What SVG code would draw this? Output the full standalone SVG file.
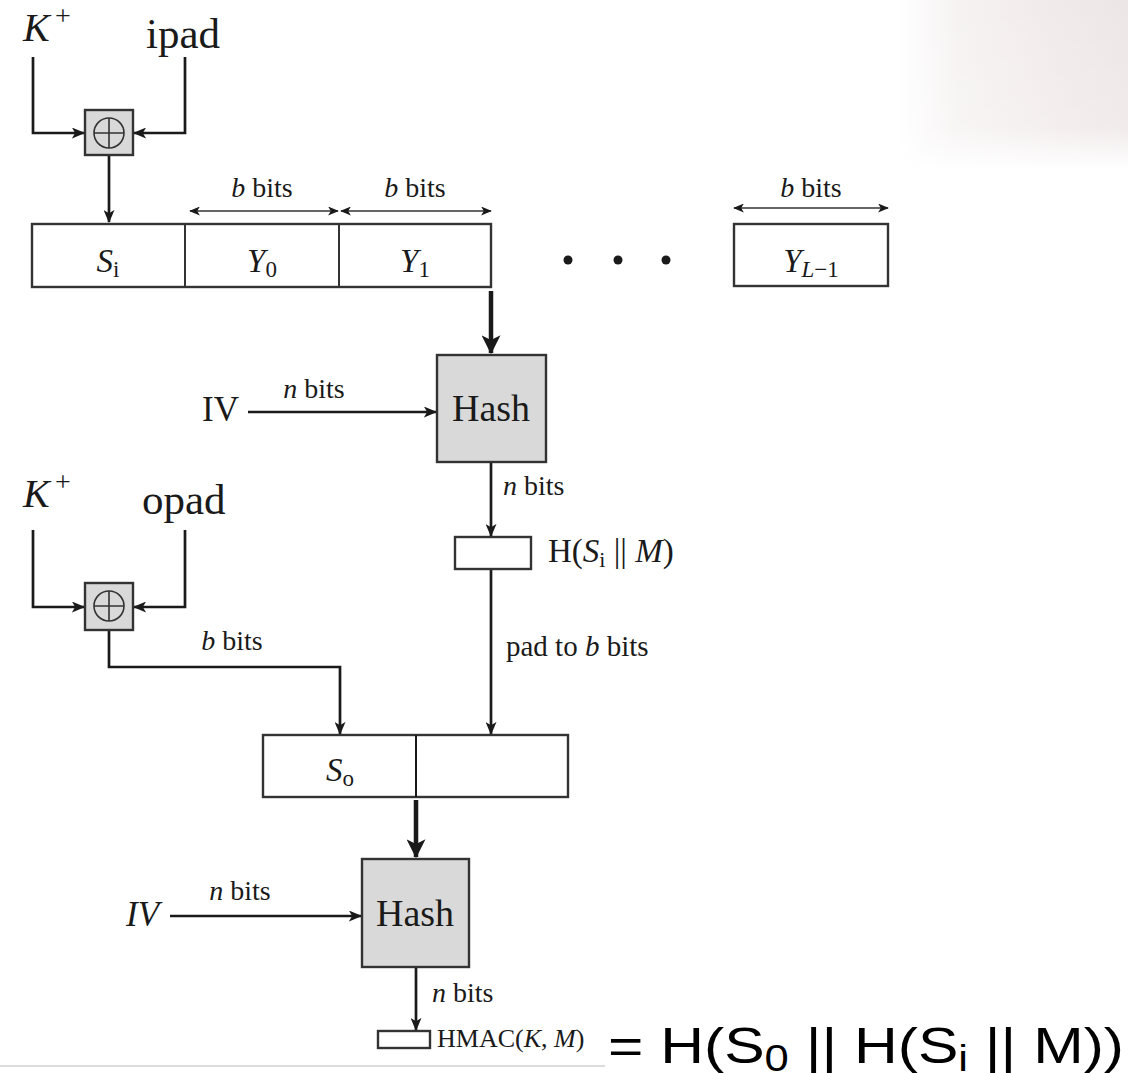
<svg xmlns="http://www.w3.org/2000/svg" width="1128" height="1073" viewBox="0 0 1128 1073">
<defs>
<marker id="ah" viewBox="0 0 12 10" refX="11" refY="5" markerWidth="14" markerHeight="11" markerUnits="userSpaceOnUse" orient="auto"><path d="M0,0 L12,5 L0,10 L3,5 Z" fill="#1a1a1a"/></marker>
<marker id="ahs" viewBox="0 0 12 10" refX="11" refY="5" markerWidth="11" markerHeight="9" markerUnits="userSpaceOnUse" orient="auto-start-reverse"><path d="M0,0 L12,5 L0,10 L3,5 Z" fill="#1a1a1a"/></marker>
<marker id="ahb" viewBox="0 0 16 16" refX="15" refY="8" markerWidth="19" markerHeight="19" markerUnits="userSpaceOnUse" orient="auto"><path d="M0,0 L16,8 L0,16 L4,8 Z" fill="#1a1a1a"/></marker>
<linearGradient id="bgx" x1="0" y1="0" x2="1" y2="0"><stop offset="0" stop-color="#f4efef" stop-opacity="0"/><stop offset="0.25" stop-color="#f4efef" stop-opacity="0.8"/><stop offset="0.7" stop-color="#efe7e8" stop-opacity="0.9"/><stop offset="1" stop-color="#ebe3e4" stop-opacity="0.9"/></linearGradient>
<linearGradient id="bgy" x1="0" y1="0" x2="0" y2="1"><stop offset="0" stop-color="#fff" stop-opacity="0"/><stop offset="0.75" stop-color="#fff" stop-opacity="0.2"/><stop offset="1" stop-color="#fff" stop-opacity="1"/></linearGradient>
</defs>
<style>
.t{font-family:"Liberation Serif","Times New Roman",serif;fill:#1a1a1a}
.i{font-style:italic}
.lbl{font-size:28px}
.box{fill:#fff;stroke:#333;stroke-width:2.4}
.hash{fill:#d9d9d9;stroke:#333;stroke-width:2.4}
.ln{fill:none;stroke:#1a1a1a;stroke-width:2.7}
.thk{fill:none;stroke:#1a1a1a;stroke-width:4.5}
.dbl{fill:none;stroke:#333;stroke-width:1.7}
.a{font-family:"Liberation Sans",Arial,sans-serif;fill:#000}
</style>
<g id="background">
<rect x="900" y="0" width="228" height="170" fill="url(#bgx)"/>
<rect x="900" y="0" width="228" height="170" fill="url(#bgy)"/>
</g>

<g id="connectors">
<path class="ln" d="M33,57 V133 H84" marker-end="url(#ah)"/>
<path class="ln" d="M185,57 V133 H134" marker-end="url(#ah)"/>
<path class="ln" d="M109,155 V222" marker-end="url(#ah)"/>
<path class="dbl" d="M190,211 H338" marker-start="url(#ahs)" marker-end="url(#ahs)"/>
<path class="dbl" d="M341,211 H491" marker-start="url(#ahs)" marker-end="url(#ahs)"/>
<path class="dbl" d="M734,208 H888" marker-start="url(#ahs)" marker-end="url(#ahs)"/>
<path class="thk" d="M491,291 V353" marker-end="url(#ahb)"/>
<path class="ln" d="M248,412 H436" marker-end="url(#ah)"/>
<path class="ln" d="M491,462 V536" marker-end="url(#ah)"/>
<path class="ln" d="M491,569 V734" marker-end="url(#ah)"/>
<path class="ln" d="M33,530 V607 H84" marker-end="url(#ah)"/>
<path class="ln" d="M185,530 V607 H134" marker-end="url(#ah)"/>
<path class="ln" d="M109,630 V667 H340 V734" marker-end="url(#ah)"/>
<path class="thk" d="M416,800 V857" marker-end="url(#ahb)"/>
<path class="ln" d="M170,916 H361" marker-end="url(#ah)"/>
<path class="ln" d="M416,967 V1030" marker-end="url(#ah)"/>
</g>

<g id="kplus1"><text class="t i" x="23" y="41" font-size="40">K</text><text class="t" x="55" y="25" font-size="28">+</text></g>
<text id="ipad" class="t" x="146" y="48" font-size="43">ipad</text>
<g id="xor1"><rect class="hash" x="85" y="110" width="48" height="45"/><circle cx="109" cy="133" r="15" fill="none" stroke="#333" stroke-width="1.6"/><path d="M94,133 H124 M109,118 V148" stroke="#333" stroke-width="1.6"/></g>

<g id="row">
<rect class="box" x="32" y="224" width="459" height="63"/>
<path d="M185,224 V287 M339,224 V287" stroke="#333" stroke-width="2"/>
<text class="t" x="108" y="272" text-anchor="middle" font-size="33"><tspan font-style="italic">S</tspan><tspan font-size="23" dy="5">i</tspan></text>
<text class="t" x="262" y="272" text-anchor="middle" font-size="33"><tspan font-style="italic">Y</tspan><tspan font-size="23" dy="5">0</tspan></text>
<text class="t" x="415" y="272" text-anchor="middle" font-size="33"><tspan font-style="italic">Y</tspan><tspan font-size="23" dy="5">1</tspan></text>
</g>
<g id="bits-labels-top">
<text class="t lbl" x="262" y="197" text-anchor="middle"><tspan font-style="italic">b</tspan> bits</text>
<text class="t lbl" x="415" y="197" text-anchor="middle"><tspan font-style="italic">b</tspan> bits</text>
<text class="t lbl" x="811" y="197" text-anchor="middle"><tspan font-style="italic">b</tspan> bits</text>
</g>
<g id="dots"><circle cx="568" cy="260" r="4.5" fill="#1a1a1a"/><circle cx="618" cy="260" r="4.5" fill="#1a1a1a"/><circle cx="666" cy="260" r="4.5" fill="#1a1a1a"/></g>
<g id="yl1"><rect class="box" x="734" y="224" width="154" height="62"/>
<text class="t" x="811" y="272" text-anchor="middle" font-size="33"><tspan font-style="italic">Y</tspan><tspan font-size="23" dy="5" font-style="italic">L</tspan><tspan font-size="23">−1</tspan></text></g>

<g id="hash1"><rect class="hash" x="437" y="355" width="109" height="107"/><text class="t" x="491" y="421" text-anchor="middle" font-size="38">Hash</text></g>
<text id="iv1" class="t" x="202" y="421" font-size="35">IV</text>
<text class="t lbl" x="314" y="398" text-anchor="middle"><tspan font-style="italic">n</tspan> bits</text>
<text class="t lbl" x="503" y="495"><tspan font-style="italic">n</tspan> bits</text>
<g id="hsim"><rect class="box" x="455" y="537" width="76" height="32"/>
<text class="t" x="548" y="562" font-size="33">H(<tspan font-style="italic">S</tspan><tspan font-size="22" dy="5">i</tspan><tspan dy="-5"> || </tspan><tspan font-style="italic">M</tspan>)</text></g>
<text class="t" x="506" y="656" font-size="29">pad to <tspan font-style="italic">b</tspan> bits</text>

<g id="kplus2"><text class="t i" x="23" y="507" font-size="40">K</text><text class="t" x="55" y="491" font-size="28">+</text></g>
<text id="opad" class="t" x="142" y="514" font-size="43">opad</text>
<g id="xor2"><rect class="hash" x="85" y="583" width="48" height="47"/><circle cx="109" cy="606" r="15" fill="none" stroke="#333" stroke-width="1.6"/><path d="M94,606 H124 M109,591 V621" stroke="#333" stroke-width="1.6"/></g>
<text class="t lbl" x="232" y="650" text-anchor="middle"><tspan font-style="italic">b</tspan> bits</text>

<g id="so"><rect class="box" x="263" y="735" width="305" height="62"/><path d="M416,735 V797" stroke="#1a1a1a" stroke-width="2"/>
<text class="t" x="340" y="781" text-anchor="middle" font-size="33"><tspan font-style="italic">S</tspan><tspan font-size="23" dy="5">o</tspan></text></g>

<g id="hash2"><rect class="hash" x="362" y="859" width="107" height="108"/><text class="t" x="415" y="926" text-anchor="middle" font-size="38">Hash</text></g>
<text id="iv2" class="t i" x="126" y="926" font-size="35">IV</text>
<text class="t lbl" x="240" y="900" text-anchor="middle"><tspan font-style="italic">n</tspan> bits</text>
<text class="t lbl" x="432" y="1002"><tspan font-style="italic">n</tspan> bits</text>
<g id="hmac"><rect class="box" x="378" y="1031" width="52" height="17"/>
<text class="t" x="437" y="1047" font-size="26">HMAC(<tspan font-style="italic">K</tspan>, <tspan font-style="italic">M</tspan>)</text></g>
<line x1="0" y1="1066" x2="605" y2="1066" stroke="#d0d0d0" stroke-width="1.5"/>
<text id="formula" class="a" x="608" y="1063" font-size="50" textLength="516" lengthAdjust="spacingAndGlyphs">= H(S<tspan font-size="36" dy="8">0</tspan><tspan dy="-8"> || H(S</tspan><tspan font-size="36" dy="8">i</tspan><tspan dy="-8"> || M))</tspan></text>
</svg>
